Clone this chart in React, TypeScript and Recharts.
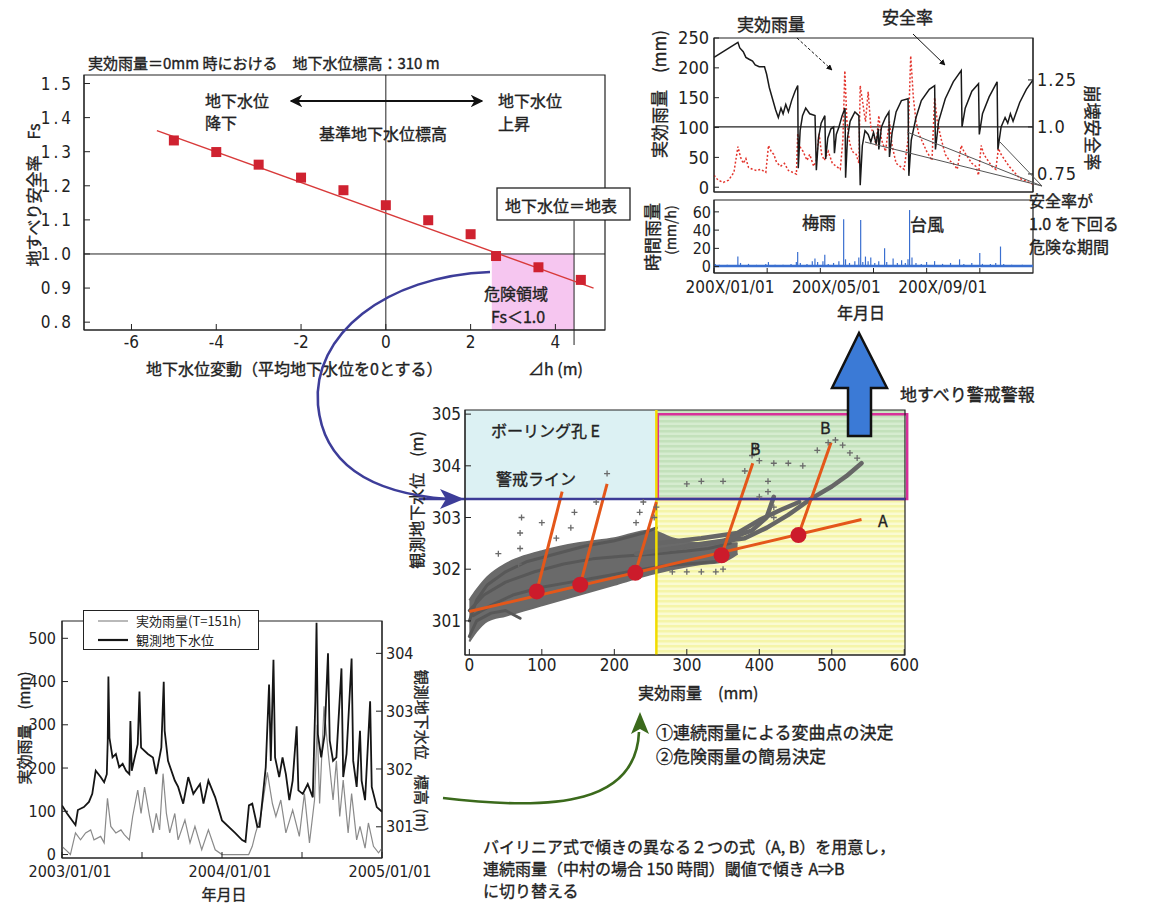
import React from "react";
import {
  ComposedChart,
  Line,
  Scatter,
  Bar,
  Area,
  XAxis,
  YAxis,
  ReferenceLine,
  ReferenceArea,
  Legend,
} from "recharts";

const JP = '"Noto Sans CJK JP", "Noto Sans", sans-serif';
const NUM = '"Liberation Sans Narrow", "DejaVu Sans Condensed", "Noto Sans CJK JP", sans-serif';
const INK = "#222";

// ---------- 1. 地下水位変動と地すべり安全率 ----------
const FS_DH = [-5, -4, -3, -2, -1, 0, 1, 2, 2.6, 3.6, 4.6];
const FS_VALUE = [1.333, 1.299, 1.262, 1.224, 1.187, 1.143, 1.099, 1.058, 0.994, 0.961, 0.924];
const FS_TREND_DH = [-5.4, 4.9];
const FS_TREND = [1.362, 0.9];
const FS_X_TICKS = [-6, -4, -2, 0, 2, 4];
const FS_Y_TICKS = [0.8, 0.9, 1.0, 1.1, 1.2, 1.3, 1.4, 1.5];
const DANGER_DH = 2.5;
const SURFACE_DH = 4.44;

// ---------- 2. 200X 年の実効雨量・安全率・時間雨量 (month from 01/01) ----------
const SAFETY_FACTOR = [
  [0, 1.37], [0.45, 1.41], [0.9, 1.45], [0.97, 1.42], [1.1, 1.4], [1.2, 1.37], [1.32, 1.36],
  [1.45, 1.35], [1.55, 1.33], [1.7, 1.32], [1.9, 1.32], [1.98, 1.28], [2.08, 1.21], [2.2, 1.15],
  [2.32, 1.09], [2.42, 1.05], [2.52, 1.1], [2.6, 1.07], [2.7, 1.12], [2.8, 1.08], [2.92, 1.14],
  [3.05, 1.19], [3.15, 1.22],
  [3.17, 0.78], [3.24, 0.98], [3.33, 1.06], [3.45, 1.1], [3.6, 1.07], [3.8, 1.06],
  [3.85, 0.77], [3.93, 0.94], [4.03, 1.02], [4.17, 1.06],
  [4.2, 0.83], [4.28, 0.94], [4.4, 0.99], [4.5, 1.0],
  [4.53, 0.86], [4.6, 0.96], [4.7, 1.0], [4.82, 1.06], [4.93, 1.1],
  [4.95, 0.73], [5.02, 0.94], [5.12, 1.03], [5.3, 1.08], [5.45, 1.06],
  [5.5, 0.69], [5.58, 0.9], [5.68, 0.98], [5.8, 0.96], [5.9, 0.92], [6.0, 0.97], [6.1, 0.91], [6.18, 0.99],
  [6.2, 0.88], [6.3, 1.0], [6.45, 1.05], [6.58, 1.08],
  [6.6, 0.84], [6.7, 0.97], [6.85, 1.08], [7.05, 1.14], [7.3, 1.15],
  [7.33, 0.74], [7.42, 0.93], [7.6, 1.05], [7.8, 1.14], [8.1, 1.2], [8.3, 1.22],
  [8.33, 0.88], [8.45, 1.03], [8.7, 1.15], [9.0, 1.24], [9.3, 1.3],
  [9.33, 1.0], [9.45, 1.1], [9.7, 1.19], [9.95, 1.23],
  [9.98, 0.96], [10.1, 1.07], [10.35, 1.16], [10.65, 1.24],
  [10.68, 0.88], [10.8, 1.0], [10.95, 1.05], [11.05, 1.02], [11.15, 1.07], [11.25, 1.03],
  [11.5, 1.13], [11.75, 1.2], [12, 1.25],
];
const EFFECTIVE_RAIN = [
  [0, 20], [0.15, 12], [0.35, 8], [0.55, 12], [0.75, 25], [0.9, 68], [1.0, 50], [1.1, 40], [1.2, 48],
  [1.3, 33], [1.45, 30], [1.6, 28], [1.75, 30], [1.95, 25], [2.05, 70], [2.15, 60], [2.25, 55],
  [2.35, 42], [2.5, 35], [2.65, 40], [2.8, 28], [2.95, 25], [3.1, 22], [3.15, 90], [3.2, 70],
  [3.35, 60], [3.5, 45], [3.6, 55], [3.75, 35], [3.85, 45], [3.95, 90], [4.05, 55], [4.15, 45],
  [4.3, 60], [4.45, 40], [4.6, 35], [4.75, 30], [4.85, 80], [4.92, 195], [5.0, 110], [5.1, 75],
  [5.2, 60], [5.35, 55], [5.45, 40], [5.5, 170], [5.6, 140], [5.7, 110], [5.8, 160], [5.9, 100],
  [6.0, 90], [6.1, 70], [6.2, 120], [6.3, 80], [6.45, 60], [6.6, 110], [6.7, 70], [6.85, 40],
  [7.0, 35], [7.15, 30], [7.3, 80], [7.4, 220], [7.5, 150], [7.6, 110], [7.7, 90], [7.85, 75],
  [8.0, 60], [8.2, 45], [8.3, 150], [8.4, 110], [8.55, 80], [8.7, 55], [8.85, 45], [9.0, 40],
  [9.15, 30], [9.3, 70], [9.4, 60], [9.55, 50], [9.7, 40], [9.85, 35], [9.95, 20], [10.05, 70],
  [10.15, 55], [10.3, 45], [10.45, 35], [10.6, 30], [10.7, 65], [10.8, 55], [10.95, 45],
  [11.1, 35], [11.3, 25], [11.5, 15], [11.75, 10], [12, 5],
];
const HOURLY_RAIN = [
  [0.05, 3], [0.2, 2], [0.5, 2], [0.9, 11], [1.0, 4], [1.3, 3], [1.6, 2], [1.95, 3], [2.05, 5],
  [2.3, 2], [2.6, 2], [2.9, 3], [3.1, 5], [3.15, 16], [3.25, 4], [3.5, 3], [3.7, 6], [3.8, 9],
  [3.9, 5], [4.1, 6], [4.17, 13], [4.3, 3], [4.5, 4], [4.7, 6], [4.88, 52], [4.95, 8], [5.1, 4],
  [5.3, 6], [5.45, 10], [5.52, 51], [5.6, 5], [5.7, 11], [5.8, 6], [5.9, 10], [6.05, 4], [6.2, 6],
  [6.42, 20], [6.5, 5], [6.74, 9], [6.9, 4], [7.06, 7], [7.2, 4], [7.3, 8], [7.36, 62], [7.45, 10],
  [7.6, 4], [7.8, 3], [8.0, 5], [8.3, 6], [8.6, 3], [8.9, 4], [9.24, 8], [9.4, 3], [9.7, 4],
  [10.0, 15], [10.1, 3], [10.4, 3], [10.6, 4], [10.78, 22], [10.9, 3], [11.2, 2], [11.6, 2],
];
const MONTH_TICKS = [0, 2, 4, 6, 8, 10];
const MONTH_LABELS: Record<number, string> = { 0: "200X/01/01", 4: "200X/05/01", 8: "200X/09/01" };

// ---------- 3. 実効雨量と観測地下水位 (ボーリング孔 E) ----------
const GW_CLOUD = [
  [0, 300.6, 301.4], [10, 300.8, 301.6], [25, 301.0, 301.85], [50, 301.1, 302.1], [75, 301.2, 302.25],
  [100, 301.3, 302.35], [150, 301.5, 302.5], [200, 301.7, 302.6], [250, 301.9, 302.75],
  [280, 302.0, 302.6], [320, 302.1, 302.5], [350, 302.15, 302.5], [370, 302.3, 302.5],
];
const GW_TRAILS = [
  [[0, 301.0], [10, 301.4], [25, 301.7], [50, 301.95], [80, 302.15], [120, 302.3], [160, 302.45], [200, 302.55], [240, 302.7], [258, 302.8]],
  [[0, 301.2], [20, 301.5], [50, 301.75], [90, 301.95], [130, 302.1], [170, 302.2], [210, 302.25], [260, 302.3], [300, 302.35], [330, 302.4], [360, 302.5]],
  [[5, 301.1], [30, 301.3], [60, 301.5], [100, 301.65], [140, 301.75], [180, 301.85], [220, 301.95], [260, 302.05], [300, 302.1], [340, 302.15]],
  [[0, 300.7], [10, 301.0], [30, 301.15], [50, 301.2], [70, 301.05]],
  [[230, 302.3], [280, 302.4], [330, 302.5], [380, 302.6], [410, 302.8], [440, 303.05], [470, 303.35], [500, 303.6], [520, 303.8], [541, 304.05]],
  [[260, 302.5], [320, 302.6], [370, 302.7], [400, 302.95], [430, 303.15], [455, 303.3]],
  [[300, 302.45], [350, 302.55], [390, 302.75], [410, 303.0], [420, 303.4]],
];
const GW_SPARSE = [
  [70, 302.4], [70, 302.7], [72, 303.0], [68, 302.1], [140, 302.8], [145, 303.1], [190, 303.85],
  [175, 303.3], [230, 302.9], [235, 303.1], [240, 303.3], [255, 303.0], [258, 303.2], [280, 301.95],
  [300, 301.95], [320, 301.95], [340, 301.95], [350, 302.0], [300, 303.65], [320, 303.7], [350, 303.7],
  [380, 303.9], [390, 304.2], [395, 304.35], [400, 304.1], [420, 304.05], [440, 304.05], [460, 304.0],
  [400, 303.4], [420, 303.0], [480, 304.3], [495, 304.45], [505, 304.5], [515, 304.4], [525, 304.25],
  [535, 304.15], [412, 303.7], [412, 303.5], [420, 303.2], [100, 302.9], [120, 302.6], [40, 302.3],
];
const BREAK_POINTS = [[93, 301.57], [153, 301.7], [229, 301.93], [348, 302.27], [454, 302.66]];
const LINE_A = [[0, 301.18], [541, 302.96]];
const LINE_B_TOPS = [[128, 303.5], [190, 303.65], [258, 303.3], [391, 304.05], [499, 304.45]];
const ALERT_LEVEL = 303.36;
const RAIN_THRESHOLD = 258;

// ---------- 4. 2003-2004 の実効雨量と観測地下水位 (month from 2003/01/01) ----------
const RAIN_151H = [
  [0, 19], [0.38, 8], [0.63, 0], [1.01, 50], [1.39, 34], [1.77, 50], [2.15, 57], [2.4, 34], [2.9, 42],
  [3.16, 27], [3.41, 130], [3.66, 65], [4.04, 50], [4.42, 57], [4.67, 46], [5.05, 34], [5.3, 88],
  [5.68, 149], [5.93, 95], [6.19, 156], [6.57, 88], [6.82, 50], [7.07, 95], [7.32, 57], [7.58, 187],
  [7.83, 95], [8.08, 50], [8.46, 95], [8.71, 34], [9.22, 80], [9.6, 27], [9.97, 65], [10.48, 11],
  [10.98, 57], [11.49, 11], [12, 0], [14, 0], [14.27, 19], [14.52, 50], [14.9, 88], [15.4, 190],
  [15.78, 118], [16.04, 88], [16.41, 126], [16.79, 50], [17.3, 103], [17.8, 42], [18.18, 141],
  [18.56, 27], [18.94, 126], [19.14, 300], [19.32, 118], [19.65, 343], [19.95, 240], [20.33, 126],
  [20.58, 217], [20.83, 88], [21.09, 172], [21.46, 50], [21.72, 141], [22.1, 34], [22.35, 65],
  [22.73, 15], [22.98, 73], [23.36, 19], [23.74, 4], [24, 15],
];
const GW_LEVEL = [
  [0, 301.37], [0.38, 301.23], [0.76, 301.11], [1.01, 301.03], [1.19, 301.29], [1.64, 301.34],
  [2.02, 301.43], [2.27, 301.57], [2.53, 301.97], [2.9, 301.86], [3.16, 301.77], [3.36, 301.91],
  [3.43, 302.49], [3.48, 303.6], [3.56, 302.54], [3.79, 302.2], [4.04, 302.26], [4.29, 302.03],
  [4.55, 302.09], [4.8, 301.97], [5.05, 301.91], [5.13, 302.83], [5.23, 301.97], [5.68, 302.43],
  [5.81, 303.34], [5.93, 302.37], [6.44, 302.26], [6.82, 302.2], [7.07, 301.91], [7.45, 302.37],
  [7.63, 303.51], [7.7, 302.66], [7.95, 302.14], [8.46, 301.8], [8.71, 301.69], [9.09, 301.4],
  [9.47, 301.86], [9.85, 301.57], [10.35, 301.74], [10.61, 301.4], [10.98, 301.8], [11.49, 301.51],
  [12, 301.11], [13.0, 300.89], [13.51, 300.77], [13.76, 300.74], [14.02, 301.37], [14.27, 301.4],
  [14.65, 301.0], [14.82, 301.0], [15.03, 301.46], [15.28, 302.03], [15.53, 303.46], [15.66, 302.14],
  [15.86, 303.89], [15.98, 302.2], [16.29, 301.86], [16.54, 302.2], [16.79, 301.91], [17.05, 301.46],
  [17.3, 301.8], [17.6, 302.74], [17.73, 301.63], [18.06, 301.57], [18.43, 301.74], [18.81, 301.51],
  [19.0, 303.17], [19.09, 304.53], [19.19, 302.6], [19.44, 302.2], [19.7, 302.6], [19.95, 304.0],
  [20.08, 302.49], [20.33, 302.14], [20.58, 302.2], [20.96, 303.74], [21.09, 301.86], [21.34, 302.26],
  [21.72, 303.91], [21.84, 302.14], [22.1, 301.69], [22.35, 302.66], [22.47, 301.8], [22.73, 301.46],
  [23.11, 303.17], [23.23, 301.69], [23.61, 301.34], [24, 301.26],
];
const YEAR_TICKS = [0, 6, 12, 18, 24];
const YEAR_LABELS: Record<number, string> = { 0: "2003/01/01", 12: "2004/01/01", 24: "2005/01/01" };

const xy = (list: number[][]) => list.map(([x, y]) => ({ x, y }));
const mv = (list: number[][]) => list.map(([m, v]) => ({ m, v }));

const tickStyle = (size: number, extra: object = {}) => ({ fontSize: size, fill: INK, fontFamily: NUM, ...extra });

function MonthTick({ x, y, payload, labels, dx, size }: any) {
  const label = labels[payload.value];
  if (!label) return null;
  return (
    <text x={x + dx} y={y} dy="0.75em" textAnchor="middle" fontSize={size} fill={INK} fontFamily={NUM}>
      {label}
    </text>
  );
}

const squareMark = (p: any) => <rect x={p.cx - 5} y={p.cy - 5} width={10} height={10} fill="#cf2230" />;
const breakDot = (p: any) => <circle cx={p.cx} cy={p.cy} r={8} fill="#cc1b2b" />;
const plusMark = (p: any) => (
  <path d={`M${p.cx - 3},${p.cy}h6M${p.cx},${p.cy - 3}v6`} stroke="#6a6a6a" strokeWidth={1.3} />
);

function SafetyFactorChart() {
  return (
    <div style={{ position: "absolute", left: 24, top: 65 }}>
      <ComposedChart width={591} height={305} margin={{ top: 10, right: 10, bottom: 10, left: 0 }}>
        <XAxis type="number" dataKey="x" domain={[-7.12, 5.17]} allowDataOverflow ticks={FS_X_TICKS} interval={0}
          tickSize={-6} tickMargin={12} height={30} stroke={INK} tick={tickStyle(17)} />
        <YAxis type="number" dataKey="y" domain={[0.777, 1.525]} allowDataOverflow ticks={FS_Y_TICKS} interval={0}
          tickSize={-6} tickMargin={16} width={60} stroke={INK}
          tick={tickStyle(17, { letterSpacing: 3 })} tickFormatter={(v: number) => v.toFixed(1)} />
        <ReferenceArea x1={DANGER_DH} x2={SURFACE_DH} y1={0.777} y2={1.0} fill="#f6c6f0" fillOpacity={1} stroke="none" />
        <ReferenceArea x1={-7.12} x2={5.17} y1={0.777} y2={1.525} fill="none" stroke={INK} strokeWidth={1.2} />
        <ReferenceLine y={1.0} stroke={INK} />
        <ReferenceLine x={0} stroke={INK} />
        <ReferenceLine segment={[{ x: SURFACE_DH, y: 1.098 }, { x: SURFACE_DH, y: 0.733 }]} stroke={INK} ifOverflow="visible" />
        <Line data={xy(FS_TREND_DH.map((d, i) => [d, FS_TREND[i]]))} dataKey="y" stroke="#d83a3a"
          strokeWidth={1.4} dot={false} isAnimationActive={false} />
        <Scatter data={xy(FS_DH.map((d, i) => [d, FS_VALUE[i]]))} fill="#cf2230" shape={squareMark} isAnimationActive={false} />
      </ComposedChart>
    </div>
  );
}

function SafetyTimeChart() {
  return (
    <>
      <div style={{ position: "absolute", left: 664, top: 18 }}>
        <ComposedChart width={429} height={185} margin={{ top: 20, right: 0, bottom: 10, left: 0 }}>
          <XAxis type="number" dataKey="m" domain={[0, 12]} allowDataOverflow ticks={MONTH_TICKS} interval={0}
            tick={false} tickSize={-5} height={1} stroke={INK} />
          <YAxis yAxisId="mm" type="number" domain={[-8, 250]} allowDataOverflow ticks={[0, 50, 100, 150, 200, 250]}
            interval={0} tickSize={-5} tickMargin={10} width={50} stroke={INK} tick={tickStyle(18)} />
          <YAxis yAxisId="fs" orientation="right" type="number" domain={[0.654, 1.473]} allowDataOverflow
            ticks={[0.75, 1.0, 1.25]} interval={0} tickSize={-5} tickMargin={9} width={60} stroke={INK}
            tick={tickStyle(18, { letterSpacing: 1 })} tickFormatter={(v: number) => (v === 1 ? "1.0" : String(v))} />
          <ReferenceArea yAxisId="mm" x1={0} x2={12} y1={-8} y2={250} fill="none" stroke={INK} strokeWidth={1.2} />
          <ReferenceLine yAxisId="fs" y={1.0} stroke={INK} strokeWidth={1.3} />
          <Line yAxisId="mm" data={mv(EFFECTIVE_RAIN)} dataKey="v" stroke="#e3342c" strokeWidth={1.5}
            strokeDasharray="2 2" dot={false} isAnimationActive={false} />
          <Line yAxisId="fs" data={mv(SAFETY_FACTOR)} dataKey="v" stroke="#1a1a1a" strokeWidth={1.5}
            dot={false} isAnimationActive={false} />
        </ComposedChart>
      </div>
      <div style={{ position: "absolute", left: 664, top: 192 }}>
        <ComposedChart width={429} height={105} data={mv(HOURLY_RAIN)} margin={{ top: 8, right: 60, bottom: 0, left: 0 }}>
          <XAxis type="number" dataKey="m" domain={[0, 12]} allowDataOverflow ticks={MONTH_TICKS} interval={0}
            tickSize={-5} tickMargin={12} height={24} stroke={INK}
            tick={<MonthTick labels={MONTH_LABELS} dx={16} size={17} />} />
          <YAxis type="number" domain={[-7, 73]} allowDataOverflow ticks={[0, 20, 40, 60]} interval={0}
            tickSize={-5} tickMargin={8} width={50} stroke={INK} tick={tickStyle(16)} />
          <ReferenceArea x1={0} x2={12} y1={-7} y2={73} fill="none" stroke={INK} strokeWidth={1.2} />
          <ReferenceLine y={0.8} stroke="#3a6fd0" strokeWidth={2.5} />
          <Bar dataKey="v" fill="#3a6fd0" barSize={2} isAnimationActive={false} />
        </ComposedChart>
      </div>
    </>
  );
}

function GroundwaterScatterChart() {
  const cloud = GW_CLOUD.map(([x, lo, hi]) => ({ x, band: [lo, hi] }));
  return (
    <div style={{ position: "absolute", left: 415, top: 405 }}>
      <ComposedChart width={520} height={285} data={cloud} margin={{ top: 5, right: 30, bottom: 5, left: 0 }}>
        <XAxis type="number" dataKey="x" domain={[-6, 601]} allowDataOverflow ticks={[0, 100, 200, 300, 400, 500, 600]}
          interval={0} tickSize={-6} tickMargin={10} height={30} stroke={INK} tick={tickStyle(17)} />
        <YAxis type="number" dataKey="y" domain={[300.34, 305.08]} allowDataOverflow ticks={[301, 302, 303, 304, 305]}
          interval={0} tickSize={-6} tickMargin={10} width={50} stroke={INK} tick={tickStyle(17)} />
        <ReferenceArea x1={-6} x2={RAIN_THRESHOLD} y1={ALERT_LEVEL} y2={305.08} fill="#dcf1f3" fillOpacity={1} stroke="none" />
        <ReferenceArea x1={RAIN_THRESHOLD} x2={601} y1={ALERT_LEVEL} y2={305.08} fill="url(#stripeGreen)" fillOpacity={1} stroke="none" />
        <ReferenceArea x1={RAIN_THRESHOLD} x2={601} y1={300.34} y2={ALERT_LEVEL} fill="url(#stripeYellow)" fillOpacity={1} stroke="none" />
        <Area type="monotone" dataKey="band" stroke="#6a6a6a" strokeWidth={2} fill="#6a6a6a" fillOpacity={1}
          isAnimationActive={false} />
        {GW_TRAILS.map((trail, i) => (
          <Line key={i} data={xy(trail)} dataKey="y" stroke={i < 4 ? "#585858" : "#666"} strokeWidth={i < 4 ? 3 : 4.5}
            strokeLinecap="round" strokeLinejoin="round" dot={false} isAnimationActive={false} />
        ))}
        <Scatter data={xy(GW_SPARSE)} shape={plusMark} isAnimationActive={false} />
        <ReferenceLine x={RAIN_THRESHOLD} stroke="#f2dc00" strokeWidth={2.5} />
        <Line data={xy(LINE_A)} dataKey="y" stroke="#e4571a" strokeWidth={3} dot={false} isAnimationActive={false} />
        {BREAK_POINTS.map((p, i) => (
          <Line key={`b${i}`} data={xy([p, LINE_B_TOPS[i]])} dataKey="y" stroke="#e4571a" strokeWidth={3}
            dot={false} isAnimationActive={false} />
        ))}
        <Scatter data={xy(BREAK_POINTS)} shape={breakDot} isAnimationActive={false} />
        <ReferenceLine segment={[{ x: -70, y: ALERT_LEVEL }, { x: 601, y: ALERT_LEVEL }]} stroke="#3c3c96"
          strokeWidth={2.5} ifOverflow="visible" />
        <ReferenceArea x1={RAIN_THRESHOLD + 2} x2={604} y1={ALERT_LEVEL} y2={305.0} fill="none" stroke="#d8309a"
          strokeWidth={2.5} ifOverflow="visible" />
        <ReferenceArea x1={-6} x2={601} y1={300.34} y2={305.08} fill="none" stroke={INK} strokeWidth={1.2} />
      </ComposedChart>
    </div>
  );
}

function LegendBox({ payload }: any) {
  const widths = [1.2, 2.2];
  return (
    <div style={{ border: "1.5px solid #222", background: "#fff", padding: "0 8px 0 14px", fontFamily: JP, fontSize: 13, lineHeight: "19px", color: INK, whiteSpace: "nowrap" }}>
      {(payload || []).map((item: any, i: number) => (
        <div key={item.value} style={{ display: "flex", alignItems: "center", height: 19 }}>
          <svg width={30} height={10}>
            <line x1={0} y1={5} x2={30} y2={5} stroke={item.color} strokeWidth={widths[i] || 1.5} />
          </svg>
          <span style={{ marginLeft: 8 }}>{item.value}</span>
        </div>
      ))}
    </div>
  );
}

function RainGroundwaterChart() {
  return (
    <div style={{ position: "absolute", left: 12, top: 611 }}>
      <ComposedChart width={440} height={282} margin={{ top: 10, right: 25, bottom: 5, left: 0 }}>
        <XAxis type="number" dataKey="m" domain={[0, 24]} allowDataOverflow ticks={YEAR_TICKS} interval={0}
          tickSize={-6} tickMargin={13} height={30} stroke={INK}
          tick={<MonthTick labels={YEAR_LABELS} dx={8} size={16} />} />
        <YAxis yAxisId="mm" type="number" domain={[-8, 540]} allowDataOverflow ticks={[0, 100, 200, 300, 400, 500]}
          interval={0} tickSize={-6} tickMargin={12} width={50} stroke={INK} tick={tickStyle(16)} />
        <YAxis yAxisId="gw" orientation="right" type="number" domain={[300.46, 304.56]} allowDataOverflow
          ticks={[301, 302, 303, 304]} interval={0} tickSize={-6} tickMargin={10} width={45} stroke={INK} tick={tickStyle(16)} />
        <ReferenceArea yAxisId="mm" x1={0} x2={24} y1={-8} y2={540} fill="none" stroke={INK} strokeWidth={1.2} />
        <Line yAxisId="mm" name="実効雨量(T=151h)" data={mv(RAIN_151H)} dataKey="v" stroke="#8a8a8a"
          strokeWidth={1.2} dot={false} isAnimationActive={false} />
        <Line yAxisId="gw" name="観測地下水位" data={mv(GW_LEVEL)} dataKey="v" stroke="#151515"
          strokeWidth={1.8} dot={false} isAnimationActive={false} />
        <Legend layout="vertical" align="center" verticalAlign="middle" content={<LegendBox />}
          wrapperStyle={{ left: 71, top: -1, width: 176 }} />
      </ComposedChart>
    </div>
  );
}

function T({ x, y, size = 16, anchor = "start", rotate = 0, children, heavy = true }: any) {
  return (
    <text x={x} y={y} fontSize={size} textAnchor={anchor} dominantBaseline="central" fill={INK}
      stroke={heavy ? INK : "none"} strokeWidth={heavy ? 0.35 : 0}
      fontFamily={JP} transform={rotate ? `rotate(${rotate} ${x} ${y})` : undefined}>
      {children}
    </text>
  );
}

function Annotations() {
  return (
    <svg width={1154} height={908} style={{ position: "absolute", left: 0, top: 0, pointerEvents: "none" }}>
      <defs>
        <marker id="headBlack" viewBox="0 0 10 10" refX="9" refY="5" markerWidth="7" markerHeight="7" orient="auto-start-reverse">
          <path d="M0,0 L10,5 L0,10 L3,5 z" fill="#111" />
        </marker>
        <marker id="headThin" viewBox="0 0 10 10" refX="9" refY="5" markerWidth="6" markerHeight="6" orient="auto">
          <path d="M0,0 L10,5 L0,10 z" fill="#111" />
        </marker>
      </defs>

      {/* chart 1 */}
      <T x={88} y={62} size={15}>実効雨量＝0mm 時における　地下水位標高：310 m</T>
      <T x={205} y={100}>地下水位</T>
      <T x={205} y={122}>降下</T>
      <T x={498} y={100}>地下水位</T>
      <T x={498} y={123}>上昇</T>
      <T x={319} y={133}>基準地下水位標高</T>
      <line x1={291} y1={101} x2={482} y2={101} stroke="#111" strokeWidth={1.8}
        markerStart="url(#headBlack)" markerEnd="url(#headBlack)" />
      <rect x={497} y={188} width={133} height={32} fill="#fff" stroke={INK} strokeWidth={1.3} />
      <T x={505} y={205}>地下水位＝地表</T>
      <T x={484} y={293}>危険領域</T>
      <T x={491} y={316}>Fs＜1.0</T>
      <T x={33} y={195} anchor="middle" rotate={-90}>地すべり安全率　Fs</T>
      <T x={146} y={368}>地下水位変動（平均地下水位を0とする）</T>
      <T x={528} y={368}>⊿h (m)</T>

      {/* chart 2 */}
      <T x={737} y={23} size={17}>実効雨量</T>
      <T x={882} y={16} size={17}>安全率</T>
      <line x1={797} y1={38} x2={832} y2={70} stroke="#111" strokeWidth={1} strokeDasharray="3 2" markerEnd="url(#headThin)" />
      <line x1={913} y1={34} x2={945} y2={65} stroke="#111" strokeWidth={1} markerEnd="url(#headThin)" />
      <line x1={1042} y1={186} x2={907} y2={132} stroke="#555" strokeWidth={1} />
      <line x1={1042} y1={186} x2={865} y2={142} stroke="#555" strokeWidth={1} />
      <line x1={1042} y1={186} x2={1000} y2={142} stroke="#555" strokeWidth={1} />
      <T x={1029} y={200} size={16}>安全率が</T>
      <T x={1029} y={223} size={16}>1.0 を下回る</T>
      <T x={1029} y={246} size={16}>危険な期間</T>
      <T x={802} y={221} size={17}>梅雨</T>
      <T x={910} y={223} size={17}>台風</T>
      <T x={658} y={94} size={17} anchor="middle" rotate={-90}>実効雨量　(mm)</T>
      <T x={1093} y={128} size={17} anchor="middle" rotate={90}>崩壊安全率</T>
      <T x={651} y={237} size={17} anchor="middle" rotate={-90}>時間雨量</T>
      <T x={670} y={230} size={14} anchor="middle" rotate={-90}>(mm/h)</T>
      <T x={861} y={312} size={16} anchor="middle">年月日</T>

      {/* chart 3 */}
      <T x={491} y={430}>ボーリング孔 E</T>
      <T x={496} y={478}>警戒ライン</T>
      <T x={878} y={520} size={16}>A</T>
      <T x={750} y={448} size={16}>B</T>
      <T x={820} y={427} size={16}>B</T>
      <T x={416} y={500} anchor="middle" rotate={-90}>観測地下水位　(m)</T>
      <T x={638} y={692}>実効雨量　(mm)</T>
      <path d="M490,272 C385,276 312,335 318,405 C324,470 380,494 448,499" fill="none" stroke="#3d3d99" strokeWidth={2.6} />
      <polygon points="464,499 440,489 446,499 440,509" fill="#3d3d99" />
      <polygon points="859,333 832,388 848,388 848,436 871,436 871,388 887,388" fill="#3b7ad6" stroke="#111" strokeWidth={2.5} strokeLinejoin="miter" />
      <T x={900} y={393} size={17}>地すべり警戒警報</T>

      {/* chart 4 */}
      <T x={23} y={728} size={15} anchor="middle" rotate={-90}>実効雨量　(mm)</T>
      <T x={422} y={751} size={15} anchor="middle" rotate={90}>観測地下水位　標高 (m)</T>
      <T x={224} y={893} size={15} anchor="middle">年月日</T>

      {/* flow notes */}
      <path d="M443,798 C560,812 636,802 639,732" fill="none" stroke="#3b6a1c" strokeWidth={2.6} />
      <polygon points="640,712 631,734 640,729 649,734" fill="#3b6a1c" />
      <T x={656} y={731} size={17}>①連続雨量による変曲点の決定</T>
      <T x={656} y={755} size={17}>②危険雨量の簡易決定</T>
      <T x={483} y={846} size={16}>バイリニア式で傾きの異なる２つの式（A, B）を用意し，</T>
      <T x={483} y={868} size={16}>連続雨量（中村の場合 150 時間）閾値で傾き A⇒B</T>
      <T x={483} y={890} size={16}>に切り替える</T>
    </svg>
  );
}

export default function App() {
  return (
    <div style={{ position: "absolute", left: 0, top: 0, width: 1154, height: 908, background: "#fff", fontFamily: JP, overflow: "hidden" }}>
      <svg width={0} height={0} style={{ position: "absolute" }}>
        <defs>
          <pattern id="stripeYellow" width="6" height="5" patternUnits="userSpaceOnUse">
            <rect width="6" height="5" fill="#fbfbd2" />
            <rect width="6" height="2.5" fill="#f5f5a8" />
          </pattern>
          <pattern id="stripeGreen" width="6" height="5" patternUnits="userSpaceOnUse">
            <rect width="6" height="5" fill="#d6ecd0" />
            <rect width="6" height="2.5" fill="#c3e1bb" />
          </pattern>
        </defs>
      </svg>
      <SafetyFactorChart />
      <SafetyTimeChart />
      <GroundwaterScatterChart />
      <RainGroundwaterChart />
      <Annotations />
    </div>
  );
}
